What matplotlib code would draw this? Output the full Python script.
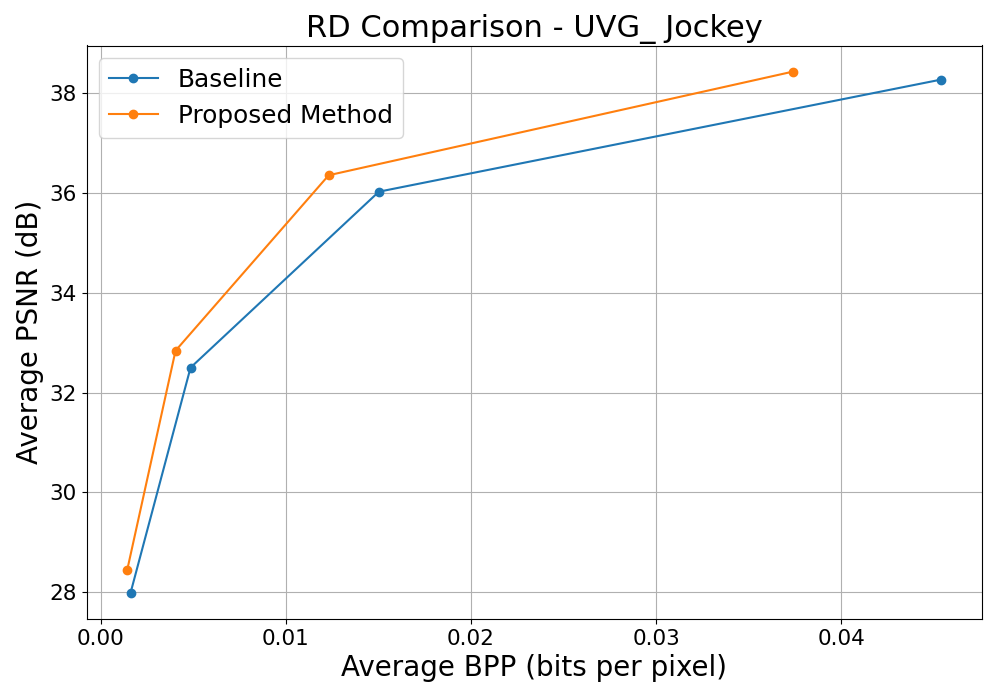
import matplotlib
matplotlib.use("Agg")
import matplotlib.pyplot as plt

# RD points
baseline_bpp = [0.00162, 0.00486, 0.01503, 0.0454]
baseline_psnr = [27.98, 32.50, 36.03, 38.28]
proposed_bpp = [0.00144, 0.00405, 0.01232, 0.0374]
proposed_psnr = [28.44, 32.84, 36.36, 38.44]

fig, ax = plt.subplots(figsize=(9.97, 6.98), dpi=100)
ax.plot(baseline_bpp, baseline_psnr, marker='o', label='Baseline')
ax.plot(proposed_bpp, proposed_psnr, marker='o', label='Proposed Method')

ax.set_title('RD Comparison - UVG_ Jockey', fontsize=22)
ax.set_xlabel('Average BPP (bits per pixel)', fontsize=20)
ax.set_ylabel('Average PSNR (dB)', fontsize=20)
ax.tick_params(labelsize=15.5)
ax.grid(True)
ax.legend(fontsize=17.8)

fig.subplots_adjust(left=86.5/997, right=982/997, top=1 - 45.5/698, bottom=1 - 619/698)
plt.savefig('out.png')
